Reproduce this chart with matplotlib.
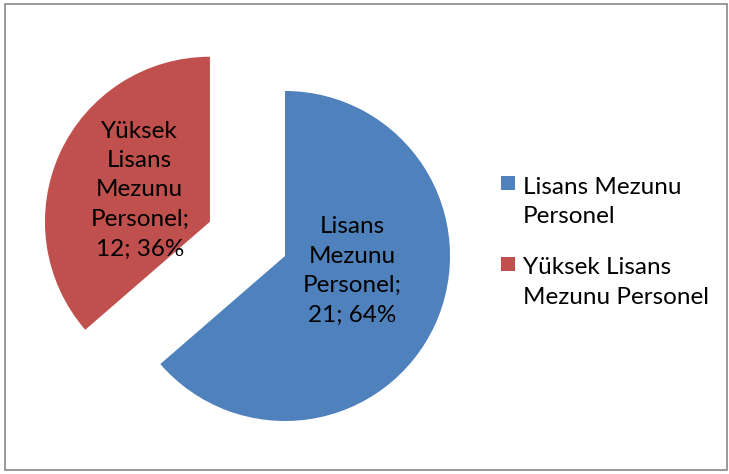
import matplotlib
matplotlib.use("Agg")
import matplotlib.pyplot as plt
from matplotlib.patches import Rectangle

categories = ["Lisans Mezunu Personel", "Yüksek Lisans Mezunu Personel"]
values = [21, 12]
percents = ["64%", "36%"]
slice_labels = ["Lisans\nMezunu\nPersonel;\n21; 64%", "Yüksek\nLisans\nMezunu\nPersonel;\n12; 36%"]
legend_labels = ["Lisans Mezunu\nPersonel", "Yüksek Lisans\nMezunu Personel"]
colors = ["#4F81BD", "#C0504D"]

plt.rcParams['font.family'] = ['Lato', 'DejaVu Sans']
FS = 17.5
LS = 1.5

W, H = 729, 474
fig = plt.figure(figsize=(W / 100, H / 100), dpi=100)

# axes positioned so that pie center is at (285, 256) px, radius 165 px
R = 165.0
cx, cy = 285.0, H - 256.0
x0, x1 = -1.6, 1.2
y0, y1 = -1.2, 1.4
left = cx + x0 * R
bottom = cy + y0 * R
ax = fig.add_axes([left / W, bottom / H, (x1 - x0) * R / W, (y1 - y0) * R / H])

wedges, texts = ax.pie(values, colors=colors, startangle=90, counterclock=False,
                       explode=[0, 0.5], labels=slice_labels, labeldistance=0.5,
                       wedgeprops=dict(linewidth=0),
                       textprops=dict(fontsize=FS, color="black", ha="center", va="center",
                                      linespacing=LS))
texts[0].set_position((0.41, -0.09))
texts[1].set_position((-0.88, 0.40))
ax.set_xlim(x0, x1)
ax.set_ylim(y0, y1)
ax.set_aspect('auto')
ax.axis('off')

# legend (square aligned with the first text line, as in the original)
first_baselines = [190, 271]
last_baselines = [223, 304]
for lab, col, bl, lbl in zip(legend_labels, colors, first_baselines, last_baselines):
    fig.patches.append(Rectangle((501 / W, (H - bl) / H), 14 / W, 14 / H,
                                 transform=fig.transFigure, facecolor=col, edgecolor='none'))
    fig.text(523 / W, (H - lbl) / H, lab, fontsize=FS, color="black", ha="left",
             va="baseline", linespacing=LS)

fig.patches.append(Rectangle((5 / W, 4 / H), 722 / W, 466 / H, transform=fig.transFigure,
                             fill=False, edgecolor="#878787", linewidth=1.2))

fig.savefig("out.png", dpi=100)
